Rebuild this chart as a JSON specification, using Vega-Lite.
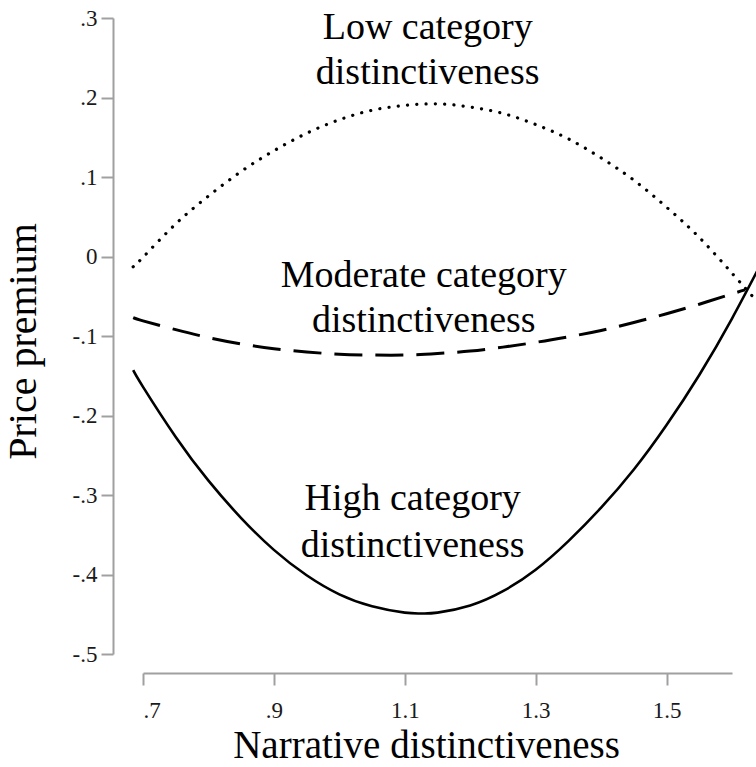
{
  "$schema": "https://vega.github.io/schema/vega-lite/v6.json",
  "width": 589,
  "height": 636,
  "autosize": {"type": "none"},
  "padding": {"left": 143, "top": 18, "right": 24, "bottom": 113},
  "background": "white",
  "config": {"view": {"stroke": null}, "font": "Liberation Serif"},
  "datasets": {
    "low": [
      {"x": 0.685, "y": -0.013}, {"x": 0.70, "y": -0.001}, {"x": 0.75, "y": 0.041}, {"x": 0.80, "y": 0.076},
      {"x": 0.85, "y": 0.107}, {"x": 0.90, "y": 0.133}, {"x": 0.95, "y": 0.155}, {"x": 1.00, "y": 0.172},
      {"x": 1.05, "y": 0.184}, {"x": 1.10, "y": 0.190}, {"x": 1.15, "y": 0.192}, {"x": 1.20, "y": 0.188},
      {"x": 1.25, "y": 0.180}, {"x": 1.30, "y": 0.166}, {"x": 1.35, "y": 0.148}, {"x": 1.40, "y": 0.124},
      {"x": 1.45, "y": 0.096}, {"x": 1.50, "y": 0.062}, {"x": 1.55, "y": 0.024}, {"x": 1.60, "y": -0.021},
      {"x": 1.64, "y": -0.058}
    ],
    "moderate": [
      {"x": 0.685, "y": -0.077}, {"x": 0.70, "y": -0.081}, {"x": 0.75, "y": -0.092}, {"x": 0.80, "y": -0.102},
      {"x": 0.85, "y": -0.110}, {"x": 0.90, "y": -0.116}, {"x": 0.95, "y": -0.120}, {"x": 1.00, "y": -0.123},
      {"x": 1.05, "y": -0.124}, {"x": 1.10, "y": -0.124}, {"x": 1.15, "y": -0.122}, {"x": 1.20, "y": -0.119},
      {"x": 1.25, "y": -0.114}, {"x": 1.30, "y": -0.108}, {"x": 1.35, "y": -0.101}, {"x": 1.40, "y": -0.093},
      {"x": 1.45, "y": -0.083}, {"x": 1.50, "y": -0.072}, {"x": 1.55, "y": -0.060}, {"x": 1.60, "y": -0.047},
      {"x": 1.62, "y": -0.042}
    ],
    "high": [
      {"x": 0.685, "y": -0.143}, {"x": 0.70, "y": -0.164}, {"x": 0.75, "y": -0.227}, {"x": 0.80, "y": -0.282},
      {"x": 0.85, "y": -0.329}, {"x": 0.90, "y": -0.369}, {"x": 0.95, "y": -0.401}, {"x": 1.00, "y": -0.425},
      {"x": 1.05, "y": -0.440}, {"x": 1.10, "y": -0.448}, {"x": 1.125, "y": -0.449}, {"x": 1.15, "y": -0.448},
      {"x": 1.20, "y": -0.439}, {"x": 1.25, "y": -0.421}, {"x": 1.30, "y": -0.394}, {"x": 1.35, "y": -0.358},
      {"x": 1.40, "y": -0.316}, {"x": 1.45, "y": -0.268}, {"x": 1.50, "y": -0.212}, {"x": 1.55, "y": -0.149},
      {"x": 1.60, "y": -0.078}, {"x": 1.65, "y": 0.000}
    ],
    "labels": [
      {"label": "Low category", "x": 1.135, "y": 0.274},
      {"label": "distinctiveness", "x": 1.135, "y": 0.217},
      {"label": "Moderate category", "x": 1.129, "y": -0.038},
      {"label": "distinctiveness", "x": 1.129, "y": -0.095},
      {"label": "High category", "x": 1.112, "y": -0.319},
      {"label": "distinctiveness", "x": 1.112, "y": -0.378}
    ]
  },
  "encoding": {
    "x": {
      "field": "x",
      "type": "quantitative",
      "scale": {"domain": [0.7, 1.6], "nice": false, "zero": false},
      "axis": {
        "values": [0.7, 0.9, 1.1, 1.3, 1.5],
        "labelExpr": "datum.value < 1 ? substring(format(datum.value, '.1f'), 1) : format(datum.value, '.1f')",
        "offset": 19,
        "grid": false,
        "domainColor": "#a0a0a0",
        "domainWidth": 2,
        "tickColor": "#a0a0a0",
        "tickWidth": 2,
        "tickSize": 12,
        "labelFont": "Liberation Serif",
        "labelFontSize": 23,
        "labelColor": "#1a1a1a",
        "labelPadding": 14,
        "title": "Narrative distinctiveness",
        "titleFont": "Liberation Serif",
        "titleFontSize": 39,
        "titleFontWeight": "normal",
        "titleColor": "#000000",
        "titleBaseline": "alphabetic",
        "titleAlign": "center",
        "titleX": 283,
        "titleY": 84
      }
    },
    "y": {
      "field": "y",
      "type": "quantitative",
      "scale": {"domain": [-0.5, 0.3], "nice": false, "zero": false},
      "axis": {
        "values": [-0.5, -0.4, -0.3, -0.2, -0.1, 0, 0.1, 0.2, 0.3],
        "labelExpr": "datum.value == 0 ? '0' : (datum.value < 0 ? '-' : '') + substring(format(abs(datum.value), '.1f'), 1)",
        "offset": 30,
        "grid": false,
        "domainColor": "#a0a0a0",
        "domainWidth": 2,
        "tickColor": "#a0a0a0",
        "tickWidth": 2,
        "tickSize": 12,
        "labelFont": "Liberation Serif",
        "labelFontSize": 23,
        "labelColor": "#1a1a1a",
        "labelPadding": 4,
        "title": "Price premium",
        "titleFont": "Liberation Serif",
        "titleFontSize": 40,
        "titleFontWeight": "normal",
        "titleColor": "#000000",
        "titleAngle": 270,
        "titleBaseline": "alphabetic",
        "titleAlign": "center",
        "titleX": -78,
        "titleY": 323
      }
    }
  },
  "layer": [
    {
      "data": {"name": "low"},
      "mark": {"type": "line", "clip": false, "interpolate": "natural", "color": "#000000", "strokeWidth": 3.2, "strokeCap": "round", "strokeDash": [0.1, 9.2]}
    },
    {
      "data": {"name": "moderate"},
      "mark": {"type": "line", "clip": false, "interpolate": "natural", "color": "#000000", "strokeWidth": 3, "strokeDash": [28, 13]}
    },
    {
      "data": {"name": "high"},
      "mark": {"type": "line", "clip": false, "interpolate": "natural", "color": "#000000", "strokeWidth": 2.6}
    },
    {
      "data": {"name": "labels"},
      "mark": {"type": "text", "clip": false, "font": "Liberation Serif", "fontSize": 38, "align": "center", "baseline": "alphabetic", "color": "#000000"},
      "encoding": {"text": {"field": "label", "type": "nominal"}}
    }
  ]
}
